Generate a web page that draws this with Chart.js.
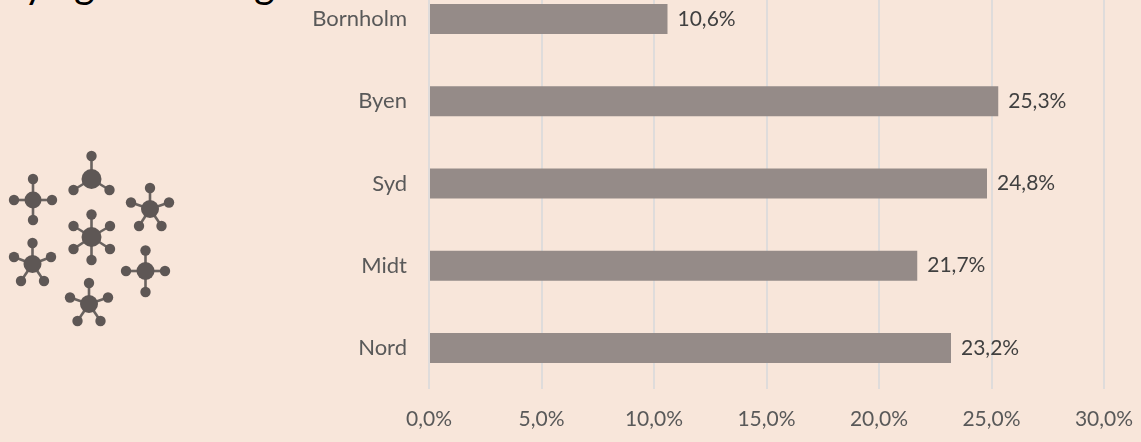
<!DOCTYPE html>
<html>
<head>
<meta charset="utf-8">
<style>
  html, body { margin: 0; padding: 0; width: 1141px; height: 442px; overflow: hidden; background: #f8e6da; }
  #wrap { position: absolute; left: 0; top: -22px; width: 1141px; height: 464px; }
  .clip { position: absolute; font: 40px Lato, sans-serif; color: #000; line-height: 40px; top: -37px; }
  #icon { position: absolute; left: 0; top: 140px; }
</style>
<script src="https://cdn.jsdelivr.net/npm/chart.js@4"></script>
</head>
<body>
<!-- only the tails of the heading are left in the picture -->
<span class="clip" style="left:24px">y</span>
<span class="clip" style="left:74px">g</span>
<span class="clip" style="left:254px">g</span>
<svg id="icon" width="190" height="200"></svg>
<div id="wrap"><canvas id="myChart" width="1141" height="464"></canvas></div>
<script>
'use strict';

var categories = ['Bornholm', 'Byen', 'Syd', 'Midt', 'Nord'];
var shares = [10.6, 25.3, 24.8, 21.7, 23.2];
var tickMax = 30;
var tickStep = 5;

function pct(v) {
  return v.toFixed(1).replace('.', ',') + '%';
}

// the little molecule drawing on the left
var molecules = [
  [33, 60, 8.5, [[33, 39], [52, 60], [33, 80], [14, 60]]],
  [91.5, 39, 10, [[91.5, 16], [73.5, 50], [109.5, 50]]],
  [150, 69, 9, [[150, 48], [131, 62.5], [169, 62.5], [139, 86], [161.5, 86]]],
  [91.5, 97, 10, [[91.5, 74.5], [73.5, 86], [110, 86], [73.5, 109], [110, 109], [91.5, 120]]],
  [32.5, 124, 9, [[32.5, 103], [14, 117], [51, 117], [21, 141], [44, 141]]],
  [145.5, 131, 9, [[145.5, 110.5], [126, 131], [165, 131], [145.5, 152]]],
  [89, 164, 9, [[89, 143], [70, 157.5], [108, 157.5], [77.5, 181], [100.5, 181]]]
];

var svgHtml = '';
molecules.forEach(function(m) {
  m[3].forEach(function(s) {
    svgHtml += '<line x1="' + m[0] + '" y1="' + m[1] + '" x2="' + s[0] + '" y2="' + s[1] + '" stroke="#6a6360" stroke-width="2.6"/>';
    svgHtml += '<circle cx="' + s[0] + '" cy="' + s[1] + '" r="5.2" fill="#5e5755"/>';
  });
  svgHtml += '<circle cx="' + m[0] + '" cy="' + m[1] + '" r="' + m[2] + '" fill="#5e5755"/>';
});
document.getElementById('icon').innerHTML = svgHtml;

var barLabels = {
  id: 'barLabels',
  afterDatasetsDraw: function(chart) {
    var c = chart.ctx;
    c.save();
    c.font = '21px Lato, sans-serif';
    c.fillStyle = '#404040';
    c.textAlign = 'left';
    c.textBaseline = 'middle';
    chart.getDatasetMeta(0).data.forEach(function(bar, i) {
      c.fillText(pct(shares[i]), bar.x + 10, bar.y);
    });
    c.restore();
  }
};

// the plot has to reach the canvas edges, so drop the room kept for half labels
function noPadding(scale) {
  scale.paddingTop = 0;
  scale.paddingBottom = 0;
  scale.paddingLeft = 0;
  scale.paddingRight = 0;
}

var ctx = document.getElementById('myChart').getContext('2d');

var chart = new Chart(ctx, {
  type: 'bar',
  data: {
    labels: categories,
    datasets: [{
      data: shares,
      backgroundColor: '#958b88',
      categoryPercentage: 1,
      barPercentage: 0.3645,
    }]
  },
  options: {
    indexAxis: 'y',
    responsive: false,
    animation: false,
    layout: { padding: { left: 0, right: 37, top: 0, bottom: 0 } },
    plugins: { legend: { display: false }, tooltip: { enabled: false } },
    scales: {
      x: {
        min: 0,
        max: tickMax,
        afterFit: function(scale) { noPadding(scale); scale.height = 53; },
        grid: { color: '#dfdcdb', lineWidth: 2, drawTicks: false },
        border: { display: false },
        ticks: {
          stepSize: tickStep,
          padding: 18,
          maxRotation: 0,
          color: '#595959',
          font: { family: 'Lato, sans-serif', size: 21 },
          callback: function(v) { return pct(v); }
        }
      },
      y: {
        afterFit: function(scale) { noPadding(scale); scale.width = 429; },
        grid: { display: false },
        border: { display: false },
        ticks: {
          padding: 14,
          color: '#595959',
          font: { family: 'Lato, sans-serif', size: 22 }
        }
      }
    }
  },
  plugins: [barLabels]
});
</script>
</body>
</html>
